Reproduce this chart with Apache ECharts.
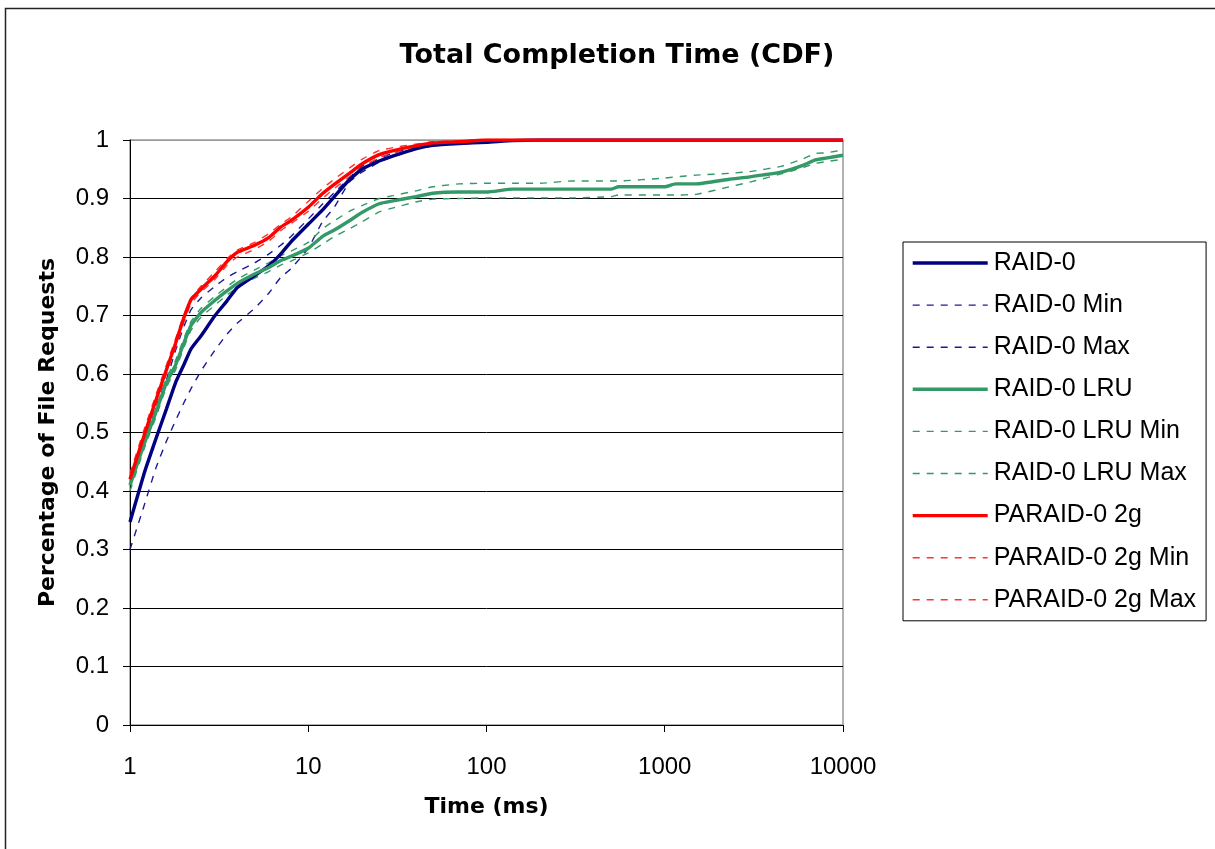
<!DOCTYPE html>
<html>
<head>
<meta charset="utf-8">
<script src="https://cdn.jsdelivr.net/npm/echarts@6/dist/echarts.min.js"></script>
<style>html,body{margin:0;padding:0;background:#fff;}#c{width:1215px;height:849px;}</style>
</head>
<body>
<div id="c"></div>
<script>
var times = [1,1.2,1.4,1.6,1.8,2,2.2,2.5,3,3.5,4,5,6,7,8,10,12,14,17,20,25,30,40,50,70,100,140,200,300,500,550,1000,1150,1500,2300,3000,4500,6000,7000,8000,10000];

var raid0 = [0.347,0.43,0.49,0.54,0.585,0.615,0.643,0.665,0.70,0.725,0.748,0.768,0.785,0.805,0.826,0.856,0.88,0.903,0.932,0.95,0.964,0.973,0.985,0.991,0.994,0.996,0.999,1,1,1,1,1,1,1,1,1,1,1,1,1,1];
var raid0Min = [0.30,0.375,0.44,0.485,0.52,0.55,0.575,0.605,0.641,0.668,0.687,0.712,0.738,0.765,0.78,0.815,0.86,0.885,0.928,0.945,0.962,0.972,0.984,0.99,0.993,0.996,0.999,1,1,1,1,1,1,1,1,1,1,1,1,1,1];
var raid0Max = [0.41,0.48,0.545,0.59,0.64,0.68,0.71,0.73,0.75,0.765,0.775,0.79,0.805,0.82,0.835,0.865,0.89,0.91,0.935,0.955,0.968,0.978,0.987,0.993,0.996,0.998,1,1,1,1,1,1,1,1,1,1,1,1,1,1,1];

var lru = [0.41,0.48,0.535,0.585,0.615,0.652,0.683,0.705,0.726,0.742,0.755,0.771,0.782,0.794,0.801,0.815,0.835,0.846,0.862,0.876,0.891,0.896,0.903,0.909,0.911,0.911,0.916,0.916,0.916,0.916,0.92,0.92,0.925,0.925,0.933,0.937,0.945,0.957,0.966,0.969,0.974];
var lruMin = [0.40,0.472,0.527,0.577,0.607,0.644,0.675,0.697,0.718,0.735,0.748,0.764,0.775,0.786,0.793,0.807,0.822,0.835,0.848,0.86,0.877,0.884,0.894,0.899,0.90,0.901,0.901,0.901,0.901,0.903,0.906,0.906,0.906,0.907,0.92,0.928,0.942,0.953,0.96,0.963,0.967];
var lruMax = [0.418,0.488,0.543,0.593,0.623,0.66,0.69,0.712,0.733,0.749,0.762,0.778,0.79,0.802,0.81,0.825,0.848,0.862,0.878,0.888,0.90,0.905,0.913,0.92,0.925,0.926,0.926,0.926,0.93,0.93,0.93,0.935,0.937,0.94,0.943,0.946,0.955,0.968,0.977,0.978,0.983];

var paraid = [0.42,0.495,0.556,0.607,0.652,0.695,0.727,0.745,0.768,0.792,0.808,0.82,0.833,0.851,0.862,0.885,0.908,0.924,0.943,0.959,0.975,0.982,0.99,0.995,0.997,1,1,1,1,1,1,1,1,1,1,1,1,1,1,1,1];
var paraidMin = [0.41,0.487,0.548,0.60,0.645,0.688,0.72,0.74,0.762,0.786,0.80,0.813,0.827,0.845,0.857,0.878,0.90,0.917,0.937,0.953,0.97,0.978,0.987,0.993,0.996,0.999,1,1,1,1,1,1,1,1,1,1,1,1,1,1,1];
var paraidMax = [0.43,0.505,0.565,0.615,0.66,0.70,0.73,0.75,0.775,0.797,0.812,0.825,0.84,0.856,0.868,0.895,0.917,0.933,0.952,0.967,0.982,0.987,0.993,0.997,0.999,1,1,1,1,1,1,1,1,1,1,1,1,1,1,1,1];

var seriesNames = ['RAID-0','RAID-0 Min','RAID-0 Max','RAID-0 LRU','RAID-0 LRU Min','RAID-0 LRU Max','PARAID-0 2g','PARAID-0 2g Min','PARAID-0 2g Max'];
var seriesValues = [raid0, raid0Min, raid0Max, lru, lruMin, lruMax, paraid, paraidMin, paraidMax];
var seriesColors = ['#000080','#1a1a99','#1a1a99','#339966','#339966','#339966','#FF0000','#FF3333','#FF3333'];
var seriesDashed = [false,true,true,false,true,true,false,true,true];
var yTicks = ['0','0.1','0.2','0.3','0.4','0.5','0.6','0.7','0.8','0.9','1'];

function pairs(vals){ return times.map(function(t,i){ return [t, vals[i]]; }); }

var order = [1,2,4,5,7,8,0,3,6];
var series = order.map(function(i){
  return {
    name: seriesNames[i], type: 'line', data: pairs(seriesValues[i]),
    showSymbol: false, symbol: 'none', smooth: 0.15,
    lineStyle: { color: seriesColors[i], width: seriesDashed[i] ? 1.4 : 3.4, type: seriesDashed[i] ? [7,7] : 'solid' },
    itemStyle: { color: seriesColors[i] },
    z: seriesDashed[i] ? 2 : 3,
    animation: false
  };
});

var chart = echarts.init(document.getElementById('c'), null, {renderer: 'canvas'});
var gridColors = [];
for (var k = 0; k < 10; k++) gridColors.push('#000');
gridColors.push('#999');

var wideFont = "'DejaVu Sans', Verdana, sans-serif";
var armFont = "'Liberation Sans', Arial, sans-serif";

chart.setOption({
  backgroundColor: '#fff',
  animation: false,
  graphic: [{
    type: 'rect', left: 3, top: 6, z: 0,
    shape: { x: 0, y: 0, width: 1400, height: 1000 },
    style: { fill: 'none', stroke: '#222', lineWidth: 1.5 }
  }],
  title: {
    text: 'Total Completion Time (CDF)', left: 612, top: 37, textAlign: 'center',
    textStyle: { fontFamily: wideFont, fontWeight: 'bold', fontSize: 27, color: '#000' }
  },
  grid: { left: 130, top: 140, right: 372, bottom: 124, show: true, borderColor: '#999', borderWidth: 1.5, backgroundColor: 'transparent' },
  legend: {
    orient: 'vertical', left: 903, top: 242,
    data: seriesNames,
    itemWidth: 75, itemHeight: 14, itemGap: 16.1,
    padding: [8, 10, 8, 8],
    borderColor: '#000', borderWidth: 1,
    itemStyle: { opacity: 0 },
    lineStyle: { width: 'inherit' },
    textStyle: { fontFamily: armFont, fontSize: 25, color: '#000', lineHeight: 26, padding: [0,0,0,1] },
    selectedMode: false
  },
  xAxis: {
    type: 'log', logBase: 10, min: 1, max: 10000,
    name: 'Time (ms)', nameLocation: 'middle', nameGap: 71,
    nameTextStyle: { fontFamily: wideFont, fontWeight: 'bold', fontSize: 22, color: '#000' },
    axisLine: { show: true, onZero: false, lineStyle: { color: '#000', width: 1 } },
    axisTick: { show: true, inside: false, length: 7, lineStyle: { color: '#000' } },
    minorTick: { show: false },
    splitLine: { show: false },
    axisLabel: { fontFamily: armFont, fontSize: 24, color: '#000', margin: 30,
      formatter: function(v){ return String(Math.round(v)); } }
  },
  yAxis: {
    type: 'value', min: 0, max: 1, interval: 0.1,
    name: 'Percentage of File Requests', nameLocation: 'middle', nameGap: 71,
    nameTextStyle: { fontFamily: wideFont, fontWeight: 'bold', fontSize: 22, color: '#000' },
    axisLine: { show: true, lineStyle: { color: '#000', width: 1 } },
    axisTick: { show: true, inside: false, length: 7, lineStyle: { color: '#000' } },
    splitLine: { show: true, lineStyle: { color: gridColors, width: 1 } },
    axisLabel: { fontFamily: armFont, fontSize: 24, color: '#000', margin: 21,
      formatter: function(v){ var idx = Math.round(v*10); return yTicks[idx]; } }
  },
  series: series
});
</script>
</body>
</html>
